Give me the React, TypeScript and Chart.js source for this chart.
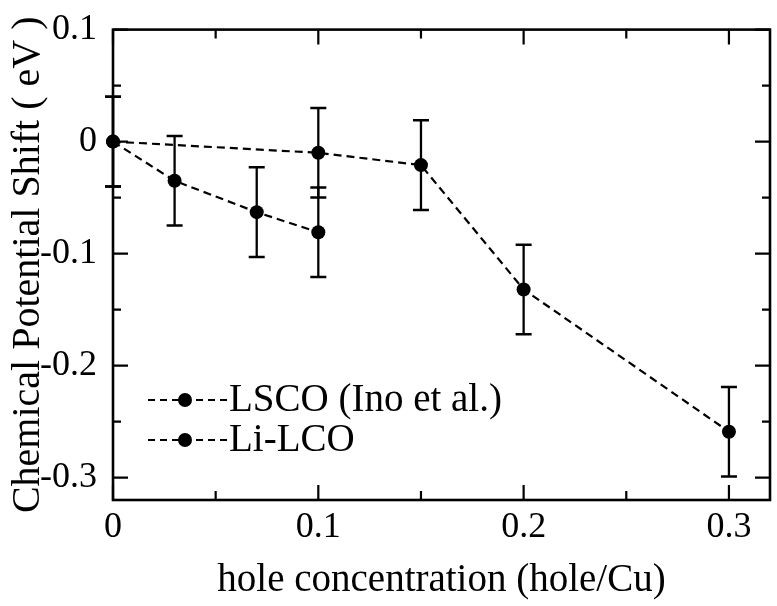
import React, { useEffect, useRef } from 'react';
import { Chart, registerables } from 'chart.js';

Chart.register(...registerables);

// LSCO (Ino et al.)
const holeLSCO = [0, 0.1, 0.15, 0.2, 0.3];
const shiftLSCO = [0, -0.01, -0.021, -0.132, -0.259];
const errLSCO = [0.04, 0.04, 0.04, 0.04, 0.04];

// Li-doped LCO
const holeLiLCO = [0, 0.03, 0.07, 0.1];
const shiftLiLCO = [0, -0.035, -0.063, -0.081];
const errLiLCO = [0.04, 0.04, 0.04, 0.04];

const seriesNames = ['LSCO (Ino et al.)', 'Li-LCO'];

const xMajor = [0, 0.1, 0.2, 0.3];
const xMinor = [0.05, 0.15, 0.25];
const yMajor = [0.1, 0, -0.1, -0.2, -0.3];
const yMinor = [0.05, -0.05, -0.15, -0.25];

const SERIF = "'Liberation Serif', 'Times New Roman', serif";

const fmt = (v: number) => (Math.abs(v) < 1e-9 ? '0' : Number(v).toFixed(1));

const decor = {
  id: 'decor',
  beforeDatasetsDraw(chart: any) {
    const { ctx, scales } = chart;
    const xs = scales.x;
    const ys = scales.y;
    const groups = [
      { h: holeLSCO, s: shiftLSCO, e: errLSCO },
      { h: holeLiLCO, s: shiftLiLCO, e: errLiLCO },
    ];
    ctx.save();
    ctx.strokeStyle = '#000';
    groups.forEach((g) => {
      g.h.forEach((x, i) => {
        const px = xs.getPixelForValue(x);
        const top = ys.getPixelForValue(g.s[i] + g.e[i]);
        const bot = ys.getPixelForValue(g.s[i] - g.e[i]);
        ctx.lineWidth = 2.3;
        ctx.beginPath();
        ctx.moveTo(px, top);
        ctx.lineTo(px, bot);
        ctx.stroke();
        ctx.lineWidth = 2.5;
        ctx.beginPath();
        ctx.moveTo(px - 8, top);
        ctx.lineTo(px + 8, top);
        ctx.moveTo(px - 8, bot);
        ctx.lineTo(px + 8, bot);
        ctx.stroke();
      });
    });
    ctx.restore();
  },
  afterDraw(chart: any) {
    const { ctx, chartArea, scales } = chart;
    const { left, right, top, bottom } = chartArea;
    const xs = scales.x;
    const ys = scales.y;
    ctx.save();
    ctx.strokeStyle = '#000';
    ctx.setLineDash([]);

    // frame
    ctx.lineWidth = 2.6;
    ctx.strokeRect(left, top, right - left, bottom - top);

    // inward ticks on all four sides
    ctx.lineWidth = 2.2;
    const xTick = (v: number, len: number) => {
      const p = xs.getPixelForValue(v);
      ctx.beginPath();
      ctx.moveTo(p, bottom);
      ctx.lineTo(p, bottom - len);
      ctx.moveTo(p, top);
      ctx.lineTo(p, top + len);
      ctx.stroke();
    };
    const yTick = (v: number, len: number) => {
      const p = ys.getPixelForValue(v);
      ctx.beginPath();
      ctx.moveTo(left, p);
      ctx.lineTo(left + len, p);
      ctx.moveTo(right, p);
      ctx.lineTo(right - len, p);
      ctx.stroke();
    };
    xMajor.forEach((v) => xTick(v, 15));
    xMinor.forEach((v) => xTick(v, 9));
    yMajor.forEach((v) => yTick(v, 15));
    yMinor.forEach((v) => yTick(v, 8));

    // legend
    const rows = [bottom - 100, bottom - 60];
    ctx.font = `39px ${SERIF}`;
    ctx.fillStyle = '#000';
    ctx.textBaseline = 'middle';
    ctx.textAlign = 'left';
    rows.forEach((y, i) => {
      ctx.lineWidth = 2;
      ctx.setLineDash([7, 5]);
      ctx.beginPath();
      ctx.moveTo(left + 35, y);
      ctx.lineTo(left + 114, y);
      ctx.stroke();
      ctx.setLineDash([]);
      ctx.beginPath();
      ctx.arc(left + 72, y, 7, 0, Math.PI * 2);
      ctx.fill();
      ctx.fillText(seriesNames[i], left + 116, y + 1);
    });
    ctx.restore();
  },
};

export default function App() {
  const ref = useRef<HTMLCanvasElement>(null);

  useEffect(() => {
    if (!ref.current) return;
    const lineStyle = {
      borderColor: '#000',
      backgroundColor: '#000',
      borderWidth: 2.2,
      borderDash: [8, 5],
      pointRadius: 7,
      pointHoverRadius: 7,
      pointBackgroundColor: '#000',
      pointBorderColor: '#000',
      pointBorderWidth: 0,
      tension: 0,
      clip: false as any,
      fill: false,
    };
    const chart = new Chart(ref.current, {
      type: 'line',
      data: {
        datasets: [
          {
            label: seriesNames[0],
            data: holeLSCO.map((x, i) => ({ x, y: shiftLSCO[i] })),
            ...lineStyle,
          },
          {
            label: seriesNames[1],
            data: holeLiLCO.map((x, i) => ({ x, y: shiftLiLCO[i] })),
            ...lineStyle,
          },
        ],
      },
      options: {
        responsive: false,
        animation: false,
        events: [],
        layout: { padding: { left: 0, top: 29, right: 6, bottom: 0 } },
        plugins: {
          legend: { display: false },
          tooltip: { enabled: false },
        },
        scales: {
          x: {
            type: 'linear',
            min: 0,
            max: 0.32,
            afterBuildTicks: (s: any) => {
              s.ticks = xMajor.map((value) => ({ value }));
            },
            afterFit: (s: any) => {
              s.height = 106;
            },
            grid: { display: false },
            border: { display: false },
            ticks: {
              color: '#000',
              font: { family: SERIF, size: 36 },
              padding: -2,
              maxRotation: 0,
              autoSkip: false,
              callback: (v: any) => fmt(Number(v)),
            },
            title: {
              display: true,
              text: 'hole concentration (hole/Cu)',
              color: '#000',
              font: { family: SERIF, size: 39 },
              padding: { top: 0, bottom: 2 },
            },
          },
          y: {
            type: 'linear',
            min: -0.32,
            max: 0.1,
            afterBuildTicks: (s: any) => {
              s.ticks = yMajor.map((value) => ({ value }));
            },
            afterFit: (s: any) => {
              s.width = 113;
            },
            grid: { display: false },
            border: { display: false },
            ticks: {
              color: '#000',
              font: { family: SERIF, size: 36 },
              padding: 8,
              callback: (v: any) => fmt(Number(v)),
            },
            title: {
              display: true,
              text: 'Chemical Potential Shift ( eV )',
              color: '#000',
              font: { family: SERIF, size: 40 },
              padding: { top: 4, bottom: 0 },
            },
          },
        },
      },
      plugins: [decor],
    });
    return () => chart.destroy();
  }, []);

  return (
    <div style={{ position: 'absolute', left: 0, top: 0, width: 777, height: 606, background: '#fff' }}>
      <canvas ref={ref} width={777} height={606} />
    </div>
  );
}
